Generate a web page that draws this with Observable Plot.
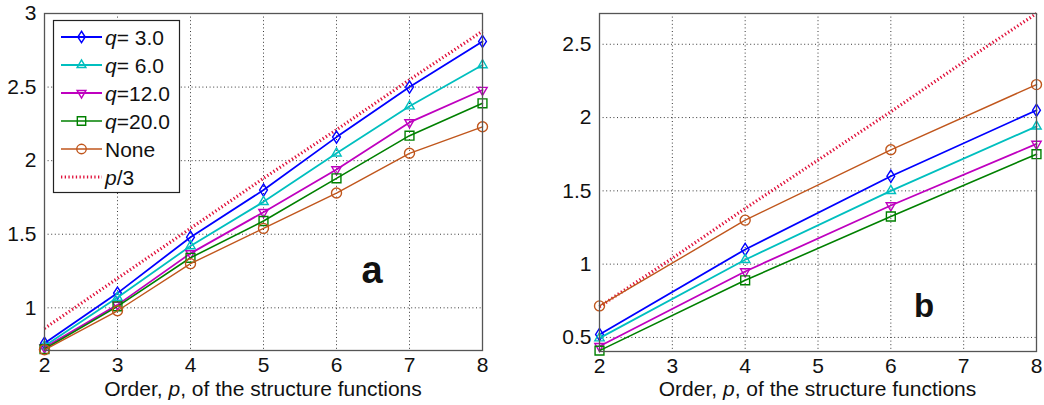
<!DOCTYPE html>
<html><head><meta charset="utf-8">
<script src="https://cdn.jsdelivr.net/npm/d3@7"></script>
<script src="https://cdn.jsdelivr.net/npm/@observablehq/plot@0.6"></script>
<style>
body{margin:0;background:#fff;}
#wrap{position:relative;width:1044px;height:405px;font-family:"Liberation Sans",Arial,sans-serif;}
#wrap svg{position:absolute;top:0;overflow:visible;}
</style></head><body><div id="wrap"></div>
<script>
// ---- data ----
const seriesNames = ["q= 3.0", "q= 6.0", "q=12.0", "q=20.0", "None"];
const seriesColors = ["#0000ff", "#00bfbf", "#bf00bf", "#008000", "#c0561c"];
const seriesSymbols = ["diamond", "triangle", "triangleDown", "square", "circle"];
const refName = "p/3";

const pA = [2, 3, 4, 5, 6, 7, 8];
const aQ3  = [0.76, 1.10, 1.48, 1.80, 2.16, 2.50, 2.81];
const aQ6  = [0.74, 1.07, 1.42, 1.72, 2.05, 2.37, 2.65];
const aQ12 = [0.73, 1.02, 1.37, 1.65, 1.94, 2.26, 2.48];
const aQ20 = [0.72, 1.01, 1.34, 1.59, 1.88, 2.17, 2.39];
const aNone= [0.715, 0.98, 1.30, 1.54, 1.78, 2.05, 2.23];
const aRef = [0.86, 1.20, 1.54, 1.88, 2.21, 2.55, 2.88];

const pB = [2, 4, 6, 8];
const bQ3  = [0.52, 1.10, 1.60, 2.05];
const bQ6  = [0.495, 1.03, 1.50, 1.94];
const bQ12 = [0.44, 0.95, 1.40, 1.82];
const bQ20 = [0.41, 0.89, 1.325, 1.75];
const bNone= [0.715, 1.30, 1.78, 2.225];
const pBref = [2, 3, 4, 5, 6, 7, 8];
const bRef = [0.71, 1.04, 1.38, 1.71, 2.04, 2.38, 2.71];

const xTicks = [2, 3, 4, 5, 6, 7, 8];
const yTicksA = [1, 1.5, 2, 2.5, 3];
const yTicksB = [0.5, 1, 1.5, 2, 2.5];
const yDomainA = [0.71, 3];
const yDomainB = [0.404, 2.71];

// ---- helpers ----
const triangleDown = {
  draw(ctx, size) {
    const s = Math.sqrt(size / 0.9);
    const h = s * Math.sqrt(3) / 2;
    ctx.moveTo(0, h * 2 / 3);
    ctx.lineTo(s / 2, -h / 3);
    ctx.lineTo(-s / 2, -h / 3);
    ctx.closePath();
  }
};
const triangleUp = {
  draw(ctx, size) {
    const s = Math.sqrt(size / 0.9);
    const h = s * Math.sqrt(3) / 2;
    ctx.moveTo(0, -h * 2 / 3);
    ctx.lineTo(s / 2, h / 3);
    ctx.lineTo(-s / 2, h / 3);
    ctx.closePath();
  }
};
const diamondThin = {
  draw(ctx, size) {
    const r = Math.sqrt(size) * 0.55;
    ctx.moveTo(0, -r * 1.25);
    ctx.lineTo(r * 0.8, 0);
    ctx.lineTo(0, r * 1.25);
    ctx.lineTo(-r * 0.8, 0);
    ctx.closePath();
  }
};
function sym(name) {
  if (name === "triangleDown") return triangleDown;
  if (name === "triangle") return triangleUp;
  if (name === "diamond") return diamondThin;
  if (name === "square") return d3.symbolSquare;
  return d3.symbolCircle;
}
const lineWidths = [1.8, 1.8, 1.8, 1.6, 1.4];
const FONT = 21;

function rows(ps, ys) { return ps.map((p, i) => ({p, v: ys[i]})); }

function panel({width, ml, mr, mb, yDomain, yTicks, series, ps, refP, refV, letter, letterX, letterY, letterSize}) {
  const marks = [
    Plot.ruleX(xTicks, {stroke: "#222", strokeWidth: 0.9, strokeDasharray: "1,2.6"}),
    Plot.ruleY(yTicks, {stroke: "#222", strokeWidth: 0.9, strokeDasharray: "1,2.6"}),
    Plot.line(rows(refP, refV), {x: "p", y: "v", stroke: "#e0103a", strokeWidth: 3.2, strokeDasharray: "1.3,2.4", strokeLinecap: "butt"})
  ];
  series.forEach((ys, i) => {
    const d = rows(ps, ys);
    marks.push(Plot.line(d, {x: "p", y: "v", stroke: seriesColors[i], strokeWidth: lineWidths[i]}));
    marks.push(Plot.dot(d, {x: "p", y: "v", stroke: seriesColors[i], fill: "none", strokeWidth: 1.4,
      symbol: () => sym(seriesSymbols[i]), r: 5}));
  });
  marks.push(Plot.frame({stroke: "#555", strokeWidth: 1.3}));
  const svg = Plot.plot({
    width, height: 405,
    marginLeft: ml, marginRight: mr, marginTop: 13, marginBottom: mb,
    style: {fontFamily: '"Liberation Sans", Arial, sans-serif', fontSize: FONT + "px", color: "#111", background: "transparent", overflow: "visible"},
    x: {domain: [2, 8], ticks: xTicks, tickSize: 0, tickPadding: 7, tickFormat: d => String(d), label: null},
    y: {domain: yDomain, ticks: yTicks, tickSize: 0, tickPadding: 8, tickFormat: d => String(d), label: null},
    symbol: {type: "identity"},
    marks
  });
  const s = d3.select(svg);
  s.selectAll("text").style("font-size", FONT + "px");
  const cx = ml + (width - ml - mr) / 2;
  const lab = s.append("text").attr("x", cx).attr("y", 396).attr("text-anchor", "middle")
    .style("font-size", FONT + "px").attr("fill", "#111");
  lab.append("tspan").text("Order, ");
  lab.append("tspan").attr("font-style", "italic").text("p");
  lab.append("tspan").text(", of the structure functions");
  s.append("text").attr("x", letterX).attr("y", letterY).attr("text-anchor", "middle")
    .style("font-size", letterSize + "px").attr("font-weight", "bold").attr("fill", "#111").text(letter);
  return svg;
}

const wrap = document.getElementById("wrap");

const svgA = panel({width: 510, ml: 44, mr: 28, mb: 55, yDomain: yDomainA, yTicks: yTicksA,
  series: [aQ3, aQ6, aQ12, aQ20, aNone], ps: pA, refP: pA, refV: aRef,
  letter: "a", letterX: 372, letterY: 283, letterSize: 38});
svgA.style.left = "0px";
wrap.appendChild(svgA);

const svgB = panel({width: 534, ml: 89, mr: 8, mb: 54, yDomain: yDomainB, yTicks: yTicksB,
  series: [bQ3, bQ6, bQ12, bQ20, bNone], ps: pB, refP: pBref, refV: bRef,
  letter: "b", letterX: 414, letterY: 317, letterSize: 33});
svgB.style.left = "510px";
wrap.appendChild(svgB);

// ---- legend (panel a) ----
const lg = d3.select(svgA).append("g").attr("text-anchor", "start");
lg.append("rect").attr("x", 53.5).attr("y", 20.5).attr("width", 126).attr("height", 172)
  .attr("fill", "#fff").attr("stroke", "#222").attr("stroke-width", 1.2);
const rowY = [37, 65, 93, 121, 149, 177];
seriesNames.forEach((name, i) => {
  const y = rowY[i];
  lg.append("line").attr("x1", 61).attr("x2", 102).attr("y1", y).attr("y2", y)
    .attr("stroke", seriesColors[i]).attr("stroke-width", lineWidths[i]);
  lg.append("path").attr("transform", `translate(81.5,${y})`)
    .attr("d", d3.symbol(sym(seriesSymbols[i]), 70)())
    .attr("fill", "none").attr("stroke", seriesColors[i]).attr("stroke-width", 1.4);
  const t = lg.append("text").attr("x", 105).attr("y", y + 7.5).attr("text-anchor", "start")
    .style("font-size", FONT + "px").attr("fill", "#111");
  if (name.startsWith("q")) {
    t.append("tspan").attr("font-style", "italic").text("q");
    t.append("tspan").text(name.slice(1));
  } else t.text(name);
});
{
  const y = rowY[5];
  lg.append("line").attr("x1", 61).attr("x2", 102).attr("y1", y).attr("y2", y)
    .attr("stroke", "#e0103a").attr("stroke-width", 3.2).attr("stroke-dasharray", "1.3,2.4");
  const t = lg.append("text").attr("x", 105).attr("y", y + 7.5).attr("text-anchor", "start")
    .style("font-size", FONT + "px").attr("fill", "#111");
  t.append("tspan").attr("font-style", "italic").text("p");
  t.append("tspan").text("/3");
}
</script></body></html>
